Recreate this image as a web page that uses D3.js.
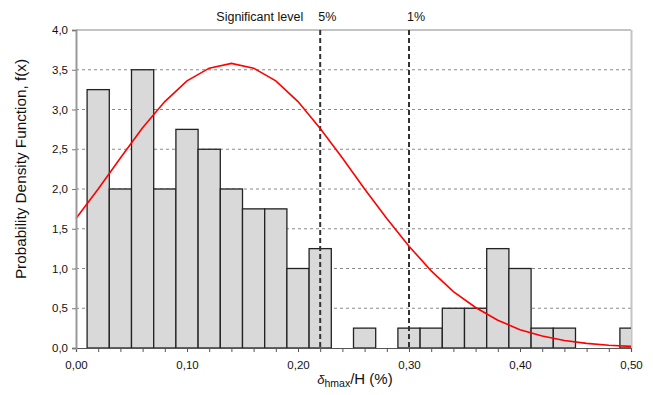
<!DOCTYPE html>
<html>
<head>
<meta charset="utf-8">
<script src="https://cdn.jsdelivr.net/npm/d3@7"></script>
<style>
  body { margin: 0; background: #fff; }
  text { font-family: "Liberation Sans", Arial, sans-serif; fill: #111; }
</style>
</head>
<body>
<div id="container"></div>
<script>
/* CONSTANTS AND GLOBALS */
const width = 653,
  height = 395,
  margin = { top: 30, bottom: 47, left: 76, right: 22 };

/* DATA */
// histogram bins (left edge of each 0.02 wide bin) and heights
const binStarts = [0.01, 0.03, 0.05, 0.07, 0.09, 0.11, 0.13, 0.15, 0.17, 0.19,
  0.21, 0.23, 0.25, 0.27, 0.29, 0.31, 0.33, 0.35, 0.37, 0.39, 0.41, 0.43,
  0.45, 0.47, 0.49];
const binHeights = [3.25, 2.0, 3.5, 2.0, 2.75, 2.5, 2.0, 1.75, 1.75, 1.0,
  1.25, 0, 0.25, 0, 0.25, 0.25, 0.5, 0.5, 1.25, 1.0, 0.25, 0.25,
  0, 0, 0.25];
const binWidth = 0.02;

// fitted density curve
const curveX = [0, 0.02, 0.04, 0.06, 0.08, 0.10, 0.12, 0.14, 0.16, 0.18,
  0.20, 0.22, 0.24, 0.26, 0.28, 0.30, 0.32, 0.34, 0.36, 0.38, 0.40, 0.42,
  0.44, 0.46, 0.48, 0.50];
const curveY = [1.63, 2.00, 2.39, 2.77, 3.10, 3.36, 3.52, 3.58, 3.52, 3.36,
  3.10, 2.76, 2.39, 2.00, 1.63, 1.28, 0.97, 0.71, 0.51, 0.35, 0.23, 0.15,
  0.095, 0.058, 0.034, 0.02];

// significance level markers
const sigX = [0.22, 0.30];
const sigLabels = ["5%", "1%"];

const xTickLabels = [0, 0.1, 0.2, 0.3, 0.4, 0.5];
const yTickLabels = [0, 0.5, 1, 1.5, 2, 2.5, 3, 3.5, 4];

// SCALES
const xScale = d3.scaleLinear()
  .domain([0, 0.5])
  .range([margin.left, width - margin.right]);

const yScale = d3.scaleLinear()
  .domain([0, 4])
  .range([height - margin.bottom, margin.top]);

const comma = (d, p) => d3.format(p)(d).replace(".", ",");

// CREATE SVG ELEMENT
const svg = d3.select("#container")
  .append("svg")
  .attr("width", width)
  .attr("height", height);

svg.append("clipPath")
  .attr("id", "plotClip")
  .append("rect")
  .attr("x", xScale(0))
  .attr("y", yScale(4))
  .attr("width", xScale(0.5) - xScale(0))
  .attr("height", yScale(0) - yScale(4));

// GRIDLINES
svg.selectAll(".grid")
  .data(yTickLabels.filter(d => d > 0 && d < 4))
  .join("line")
  .attr("class", "grid")
  .attr("x1", xScale(0))
  .attr("x2", xScale(0.5))
  .attr("y1", d => yScale(d))
  .attr("y2", d => yScale(d))
  .attr("stroke", "#8a8a8a")
  .attr("stroke-width", 1)
  .attr("stroke-dasharray", "3,3");

// top / right frame
svg.append("line")
  .attr("x1", xScale(0)).attr("x2", xScale(0.5))
  .attr("y1", yScale(4)).attr("y2", yScale(4))
  .attr("stroke", "#888").attr("stroke-width", 1);
svg.append("line")
  .attr("x1", xScale(0.5) + 0.5).attr("x2", xScale(0.5) + 0.5)
  .attr("y1", yScale(4)).attr("y2", yScale(0))
  .attr("stroke", "#c4c4c4").attr("stroke-width", 2);

// DRAW BARS
const bars = binStarts.map((s, i) => ({ x0: s, x1: s + binWidth, h: binHeights[i] }))
  .filter(d => d.h > 0);

svg.append("g")
  .attr("clip-path", "url(#plotClip)")
  .selectAll(".bar")
  .data(bars)
  .join("rect")
  .attr("class", "bar")
  .attr("x", d => xScale(d.x0))
  .attr("y", d => yScale(d.h))
  .attr("width", d => xScale(d.x1) - xScale(d.x0))
  .attr("height", d => yScale(0) - yScale(d.h))
  .attr("fill", "#d9d9d9")
  .attr("stroke", "#222")
  .attr("stroke-width", 1.3);

// SIGNIFICANCE LINES
svg.selectAll(".sig")
  .data(sigX)
  .join("line")
  .attr("class", "sig")
  .attr("x1", d => xScale(d))
  .attr("x2", d => xScale(d))
  .attr("y1", yScale(4))
  .attr("y2", yScale(0))
  .attr("stroke", "#333")
  .attr("stroke-width", 2)
  .attr("stroke-dasharray", "5,3");

svg.selectAll(".sigLabel")
  .data(sigX)
  .join("text")
  .attr("class", "sigLabel")
  .attr("x", d => xScale(d) - 2)
  .attr("y", 21)
  .attr("font-size", 12.5)
  .text((d, i) => sigLabels[i]);

svg.append("text")
  .attr("x", xScale(sigX[0]) - 17)
  .attr("y", 21)
  .attr("text-anchor", "end")
  .attr("font-size", 12.5)
  .text("Significant level");

// LINE GENERATOR FUNCTION
const curveData = curveX.map((x, i) => ({ x: x, y: curveY[i] }));
const lineGen = d3.line()
  .x(d => xScale(d.x))
  .y(d => yScale(d.y));

svg.append("path")
  .datum(curveData)
  .attr("fill", "none")
  .attr("stroke", "#ff0000")
  .attr("stroke-width", 1.6)
  .attr("d", lineGen);

// BUILD AND CALL AXES
const xAxis = d3.axisBottom(xScale)
  .tickValues(d3.range(0, 26).map(i => i * 0.02))
  .tickSize(4)
  .tickFormat(d => xTickLabels.some(v => Math.abs(v - d) < 1e-9) ? comma(d, ".2f") : "");

const xAxisGroup = svg.append("g")
  .attr("class", "xAxis")
  .attr("transform", `translate(0, ${yScale(0)})`)
  .call(xAxis);
xAxisGroup.select(".domain").attr("stroke", "#555").attr("stroke-width", 1.2);
xAxisGroup.selectAll(".tick line").attr("stroke", "#555");
xAxisGroup.selectAll(".tick text")
  .attr("dy", "1.2em")
  .attr("font-size", 11.5)
  .attr("font-family", "Liberation Sans, Arial, sans-serif")
  .attr("fill", "#111");

const yAxis = d3.axisLeft(yScale)
  .tickValues(yTickLabels)
  .tickSize(4)
  .tickFormat(d => comma(d, ".1f"));

const yAxisGroup = svg.append("g")
  .attr("class", "yAxis")
  .attr("transform", `translate(${xScale(0)}, 0)`)
  .call(yAxis);
yAxisGroup.select(".domain").attr("stroke", "#999").attr("stroke-width", 2);
yAxisGroup.selectAll(".tick line").attr("stroke", "#777");
yAxisGroup.selectAll(".tick text")
  .attr("x", -8)
  .attr("font-size", 11.5)
  .attr("font-family", "Liberation Sans, Arial, sans-serif")
  .attr("fill", "#111");

// AXIS TITLES
svg.append("text")
  .attr("transform", `translate(26, 169) rotate(-90)`)
  .attr("text-anchor", "middle")
  .attr("font-size", 15.3)
  .text("Probability Density Function, f(x)");

const xTitle = svg.append("text")
  .attr("x", 355)
  .attr("y", 384)
  .attr("text-anchor", "middle")
  .attr("font-size", 15);
xTitle.append("tspan").attr("font-style", "italic").attr("font-size", 13).text("δ");
xTitle.append("tspan").attr("font-size", 10.5).attr("dy", 3).text("hmax");
xTitle.append("tspan").attr("dy", -3).text("/H (%)");
</script>
</body>
</html>
